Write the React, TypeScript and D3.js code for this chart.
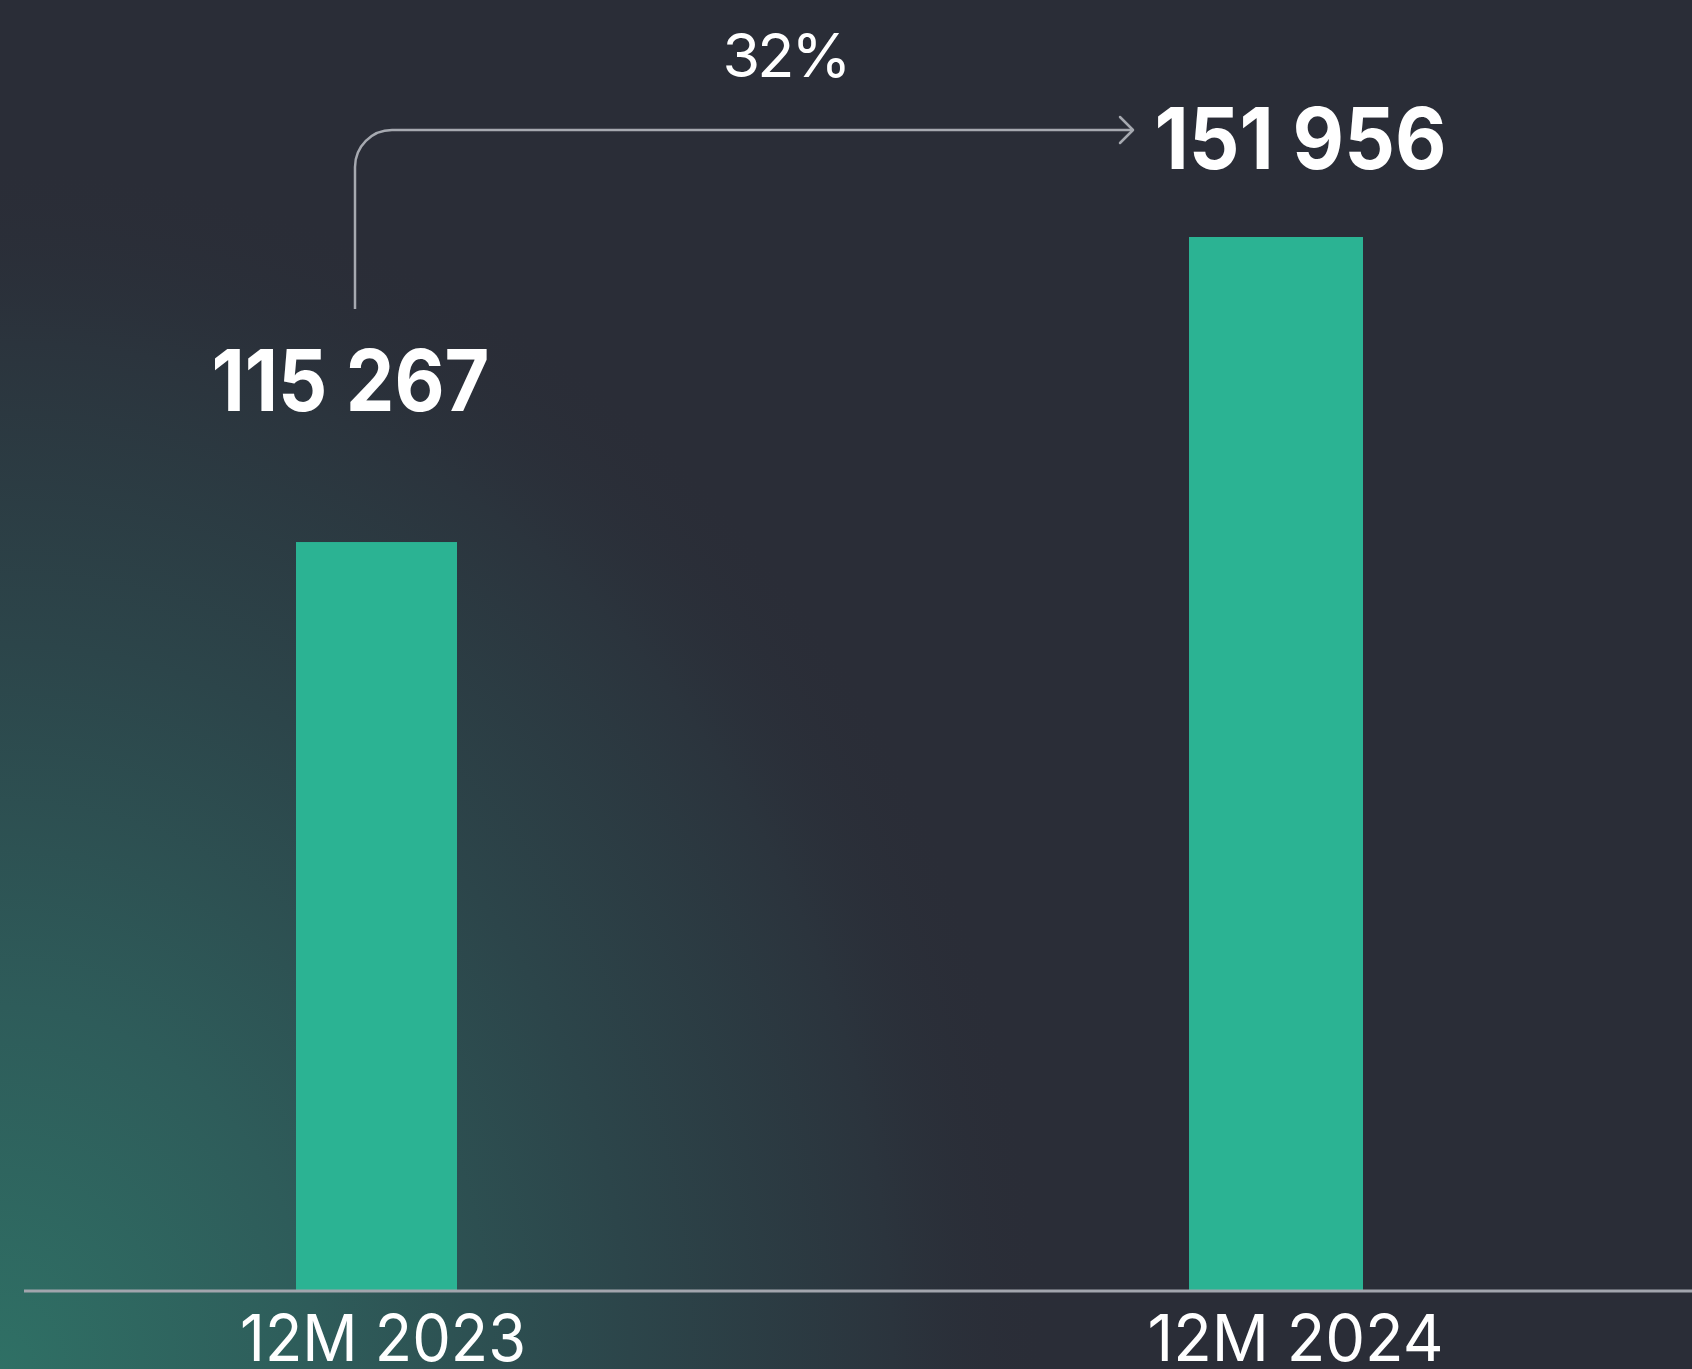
import React from "react";
import * as d3 from "d3";

const categories = ["12M 2023", "12M 2024"];
const values = [115267, 151956];
const valueLabels = ["115 267", "151 956"];
const growthLabel = "32%";

const W = 1692;
const H = 1369;
const FONT = "Inter, 'Noto Sans', sans-serif";

// layout
const barWidths = [161, 174];
const valueLabelDx = [-26, 24.5];
const valueLabelWidths = [278, 292];
const catLabelDx = [6.5, 19.5];
const catLabelWidths = [286, 296];

export default function App() {
  const x = d3.scalePoint<string>().domain(categories).range([376.5, 1276]);
  const y = d3.scaleLinear().domain([25300, 151956]).range([1290, 237]);
  const baseY = 1291;

  const r = 37;
  const ax = 355;
  const ay0 = 309;
  const ay = 130;
  const tipX = 1133;
  const arrowPath = d3.path();
  arrowPath.moveTo(ax, ay0);
  arrowPath.lineTo(ax, ay + r);
  arrowPath.arcTo(ax, ay, ax + r, ay, r);
  arrowPath.lineTo(tipX, ay);
  const headPath = d3.path();
  headPath.moveTo(tipX - 13, ay - 13);
  headPath.lineTo(tipX, ay);
  headPath.lineTo(tipX - 13, ay + 13);

  return (
    <svg
      width={W}
      height={H}
      viewBox={`0 0 ${W} ${H}`}
      style={{ position: "absolute", left: 0, top: 0, display: "block" }}
    >
      <defs>
        <radialGradient
          id="glow"
          gradientUnits="userSpaceOnUse"
          cx={0}
          cy={H}
          r={1050}
          gradientTransform={`translate(0 ${H}) scale(1 1.15) translate(0 ${-H})`}
        >
          <stop offset="0" stopColor="#2f7065" />
          <stop offset="0.3" stopColor="#2e5c5a" />
          <stop offset="0.6" stopColor="#2c454a" />
          <stop offset="0.85" stopColor="#2b343d" />
          <stop offset="1" stopColor="#2a2d37" stopOpacity="0" />
        </radialGradient>
      </defs>
      <rect x={0} y={0} width={W} height={H} fill="#2a2d37" />
      <rect x={0} y={0} width={W} height={H} fill="url(#glow)" />

      {categories.map((c, i) => {
        const cx = x(c)!;
        return (
          <rect
            key={c}
            x={cx - barWidths[i] / 2}
            y={y(values[i])}
            width={barWidths[i]}
            height={baseY - y(values[i])}
            fill="#2bb393"
          />
        );
      })}

      <line x1={24} x2={W} y1={baseY} y2={baseY} stroke="#a2a5ad" strokeWidth={3} />

      {categories.map((c, i) => {
        const cx = x(c)! + catLabelDx[i];
        return (
          <text
            key={"cl" + c}
            x={cx}
            y={1361}
            textAnchor="middle"
            fontFamily={FONT}
            fontSize={64}
            fontWeight={400}
            fill="#ffffff"
            textLength={catLabelWidths[i]}
            lengthAdjust="spacingAndGlyphs"
          >
            {c}
          </text>
        );
      })}

      {categories.map((c, i) => {
        const cx = x(c)! + valueLabelDx[i];
        const by = i === 0 ? 411 : 169;
        return (
          <text
            key={"vl" + c}
            x={cx}
            y={by}
            textAnchor="middle"
            fontFamily={FONT}
            fontSize={85}
            fontWeight={700}
            fill="#ffffff"
            textLength={valueLabelWidths[i]}
            lengthAdjust="spacingAndGlyphs"
          >
            {valueLabels[i]}
          </text>
        );
      })}

      <path d={arrowPath.toString()} fill="none" stroke="#a6a9b0" strokeWidth={2.5} />
      <path d={headPath.toString()} fill="none" stroke="#a6a9b0" strokeWidth={2.5} strokeLinecap="round" strokeLinejoin="round" />

      <text
        x={785.5}
        y={77}
        textAnchor="middle"
        fontFamily={FONT}
        fontSize={61}
        fontWeight={400}
        fill="#ffffff"
        letterSpacing={-3}
      >
        {growthLabel}
      </text>
    </svg>
  );
}
